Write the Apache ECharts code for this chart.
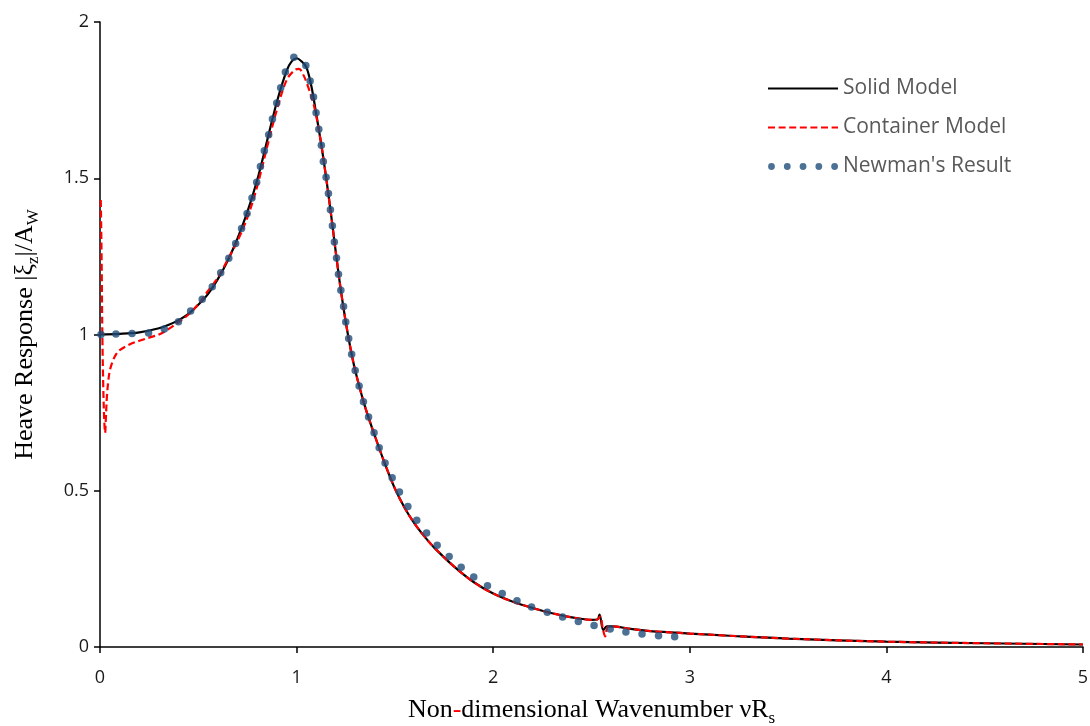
<!DOCTYPE html>
<html>
<head>
<meta charset="utf-8">
<script src="https://cdn.jsdelivr.net/npm/echarts@6/dist/echarts.min.js"></script>
<style>
html,body{margin:0;padding:0;background:#fff;}
#chart{width:1090px;height:726px;}
</style>
</head>
<body>
<div id="chart"></div>
<script>
// ---- data ----
const xTicks = [0, 1, 2, 3, 4, 5];
const yTicks = [0, 0.5, 1, 1.5, 2];
const seriesNames = ['Solid Model', 'Container Model', "Newman's Result"];

const solidModel = [
  [0,1.0],[0.1,1.002],[0.2,1.007],[0.3,1.02],[0.35,1.031],[0.4,1.046],[0.45,1.066],
  [0.5,1.095],[0.55,1.13],[0.6,1.178],[0.65,1.237],[0.7,1.308],[0.75,1.393],[0.8,1.495],
  [0.85,1.62],[0.9,1.745],[0.95,1.845],[0.975,1.874],[1.0,1.884],[1.025,1.874],[1.05,1.855],
  [1.075,1.795],[1.1,1.705],[1.125,1.61],[1.15,1.503],[1.175,1.385],[1.2,1.26],[1.225,1.142],
  [1.25,1.04],[1.275,0.953],[1.3,0.88],[1.35,0.765],[1.4,0.672],[1.45,0.585],[1.5,0.507],
  [1.55,0.445],[1.6,0.395],[1.65,0.354],[1.7,0.318],[1.8,0.258],[1.9,0.208],[2.0,0.171],
  [2.1,0.145],[2.2,0.125],[2.3,0.108],[2.4,0.095],[2.5,0.087],[2.53,0.088],[2.541,0.104],
  [2.56,0.054],[2.578,0.066],[2.6,0.066],[2.7,0.058],[2.8,0.051],[2.9,0.047],[3.0,0.043],
  [3.2,0.036],[3.5,0.027],[4.0,0.017],[4.5,0.012],[5.0,0.008]
];

const containerModel = [
  [0.004,1.43],[0.008,1.25],[0.012,1.0],[0.017,0.82],[0.022,0.72],[0.026,0.685],[0.03,0.735],
  [0.035,0.8],[0.042,0.85],[0.05,0.885],[0.065,0.915],[0.08,0.935],[0.1,0.95],[0.15,0.968],
  [0.2,0.98],[0.25,0.99],[0.3,1.0],[0.35,1.018],[0.4,1.04],[0.45,1.064],[0.5,1.097],
  [0.55,1.14],[0.6,1.183],[0.65,1.24],[0.7,1.3],[0.75,1.375],[0.8,1.475],[0.85,1.6],
  [0.9,1.72],[0.95,1.815],[0.99,1.846],[1.012,1.85],[1.035,1.83],[1.06,1.79],[1.085,1.74],
  [1.1,1.7],[1.125,1.61],[1.15,1.503],[1.175,1.385],[1.2,1.26],[1.225,1.142],[1.25,1.04],
  [1.275,0.953],[1.3,0.88],[1.35,0.765],[1.4,0.672],[1.45,0.585],[1.5,0.507],[1.55,0.445],
  [1.6,0.395],[1.65,0.354],[1.7,0.318],[1.8,0.258],[1.9,0.208],[2.0,0.171],[2.1,0.145],
  [2.2,0.125],[2.3,0.108],[2.4,0.095],[2.5,0.087],[2.53,0.088],[2.545,0.098],[2.557,0.06],
  [2.57,0.034],[2.58,0.062],[2.6,0.066],[2.7,0.058],[2.8,0.051],[2.9,0.047],[3.0,0.043],
  [3.2,0.036],[3.5,0.027],[4.0,0.017],[4.5,0.012],[5.0,0.008]
];

const newmanResult = [
  [0.005,1.0],[0.081,1.002],[0.163,1.003],[0.247,1.005],[0.327,1.018],[0.399,1.041],
  [0.461,1.075],[0.52,1.113],[0.571,1.153],[0.614,1.198],[0.655,1.244],[0.69,1.291],
  [0.72,1.339],[0.748,1.387],[0.773,1.437],[0.797,1.487],[0.816,1.538],[0.836,1.588],
  [0.858,1.639],[0.877,1.69],[0.899,1.741],[0.919,1.79],[0.943,1.84],[0.986,1.887],
  [1.047,1.861],[1.069,1.811],[1.086,1.76],[1.099,1.71],[1.113,1.657],[1.126,1.606],
  [1.136,1.554],[1.15,1.503],[1.162,1.451],[1.172,1.399],[1.182,1.348],[1.192,1.296],
  [1.203,1.245],[1.213,1.193],[1.225,1.142],[1.239,1.09],[1.25,1.04],[1.265,0.987],
  [1.28,0.937],[1.298,0.885],[1.318,0.835],[1.34,0.785],[1.366,0.736],[1.394,0.686],
  [1.42,0.638],[1.45,0.589],[1.486,0.542],[1.523,0.496],[1.566,0.45],[1.611,0.406],
  [1.661,0.365],[1.715,0.326],[1.776,0.29],[1.837,0.255],[1.901,0.224],[1.971,0.196],
  [2.046,0.171],[2.121,0.148],[2.195,0.128],[2.275,0.111],[2.353,0.096],[2.433,0.082],
  [2.513,0.069],[2.595,0.058],[2.675,0.048],[2.757,0.042],[2.841,0.036],[2.923,0.033]
];

// ---- legend icons (paths), height box = 7 ----
const ICON_W = 70, ICON_H = 7;
function boxPts() {
  return 'M0,0L0.01,0L0,0Z M' + ICON_W + ',' + ICON_H + 'L' + (ICON_W - 0.01) + ',' + ICON_H + 'L' + ICON_W + ',' + ICON_H + 'Z ';
}
function lineIcon(th, dash, gap) {
  const y0 = (ICON_H - th) / 2, y1 = y0 + th;
  let p = boxPts();
  if (!dash) {
    p += 'M0,' + y0 + 'L' + ICON_W + ',' + y0 + 'L' + ICON_W + ',' + y1 + 'L0,' + y1 + 'Z';
  } else {
    for (let x = 0; x < ICON_W; x += dash + gap) {
      const x1 = Math.min(x + dash, ICON_W);
      p += 'M' + x + ',' + y0 + 'L' + x1 + ',' + y0 + 'L' + x1 + ',' + y1 + 'L' + x + ',' + y1 + 'Z ';
    }
  }
  return 'path://' + p;
}
function dotsIcon(n, r, step) {
  let p = boxPts();
  const cy = ICON_H / 2;
  for (let i = 0; i < n; i++) {
    const cx = 3.5 + i * step;
    p += 'M' + (cx - r) + ',' + cy + 'a' + r + ',' + r + ' 0 1,0 ' + (2 * r) + ',0a' + r + ',' + r + ' 0 1,0 ' + (-2 * r) + ',0Z ';
  }
  return 'path://' + p;
}

const chart = echarts.init(document.getElementById('chart'), null, {renderer: 'canvas'});
const sans = 'Open Sans';
const serif = 'Liberation Serif';

chart.setOption({
  backgroundColor: '#ffffff',
  animation: false,
  grid: {left: 100, right: 7, top: 22, bottom: 79, containLabel: false, outerBoundsMode: 'none'},
  legend: {
    orient: 'vertical',
    left: 768,
    top: 78,
    padding: 0,
    itemWidth: ICON_W,
    itemHeight: ICON_H,
    itemGap: 18,
    itemStyle: {borderWidth: 0},
    textStyle: {fontFamily: sans, fontSize: 21, color: '#595959'},
    data: [
      {name: seriesNames[0], icon: lineIcon(2.2, 0, 0)},
      {name: seriesNames[1], icon: lineIcon(2.2, 7, 3.6)},
      {name: seriesNames[2], icon: dotsIcon(5, 3.4, 15.8)}
    ]
  },
  xAxis: {
    type: 'value',
    min: xTicks[0],
    max: xTicks[xTicks.length - 1],
    interval: 1,
    axisLine: {show: true, onZero: false, lineStyle: {color: '#000', width: 1.5}},
    axisTick: {show: true, inside: false, length: 6, lineStyle: {color: '#000', width: 1.5}},
    axisLabel: {fontFamily: sans, fontSize: 18, color: '#1a1a1a', margin: 22},
    splitLine: {show: false},
    name: '{t|Non}{r|-}{t|dimensional Wavenumber νR}{s|s}',
    nameLocation: 'middle',
    nameGap: 50,
    nameTextStyle: {
      rich: {
        t: {fontFamily: serif, fontSize: 26, color: '#000', lineHeight: 28, verticalAlign: 'top'},
        r: {fontFamily: serif, fontSize: 26, color: '#ff0000', lineHeight: 28, verticalAlign: 'top'},
        s: {fontFamily: serif, fontSize: 17, color: '#000', lineHeight: 17, verticalAlign: 'top', padding: [13, 0, 0, 0]}
      }
    }
  },
  yAxis: {
    type: 'value',
    min: yTicks[0],
    max: yTicks[yTicks.length - 1],
    interval: 0.5,
    axisLine: {show: true, onZero: false, lineStyle: {color: '#000', width: 1.5}},
    axisTick: {show: true, inside: false, length: 6, lineStyle: {color: '#000', width: 1.5}},
    axisLabel: {fontFamily: sans, fontSize: 18, color: '#1a1a1a', margin: 11},
    splitLine: {show: false},
    name: '{t|Heave Response |ξ}{s|z}{t||/A}{s|W}',
    nameLocation: 'middle',
    nameRotate: 90,
    nameGap: 60,
    nameTextStyle: {
      rich: {
        t: {fontFamily: serif, fontSize: 26, color: '#000', lineHeight: 28, verticalAlign: 'top'},
        s: {fontFamily: serif, fontSize: 17, color: '#000', lineHeight: 17, verticalAlign: 'top', padding: [13, 0, 0, 0]}
      }
    }
  },
  series: [
    {
      name: seriesNames[0],
      type: 'line',
      data: solidModel,
      symbol: 'none',
      smooth: 0.35,
      lineStyle: {color: '#000000', width: 2.2},
      itemStyle: {color: '#000000'},
      z: 2
    },
    {
      name: seriesNames[1],
      type: 'line',
      data: containerModel,
      symbol: 'none',
      smooth: 0.35,
      lineStyle: {color: '#ff0000', width: 2.2, type: [7, 3.6]},
      itemStyle: {color: '#ff0000'},
      z: 3
    },
    {
      name: seriesNames[2],
      type: 'scatter',
      data: newmanResult,
      symbol: 'circle',
      symbolSize: 7.5,
      itemStyle: {color: '#1f4e79'},
      z: 4
    }
  ]
});
</script>
</body>
</html>
